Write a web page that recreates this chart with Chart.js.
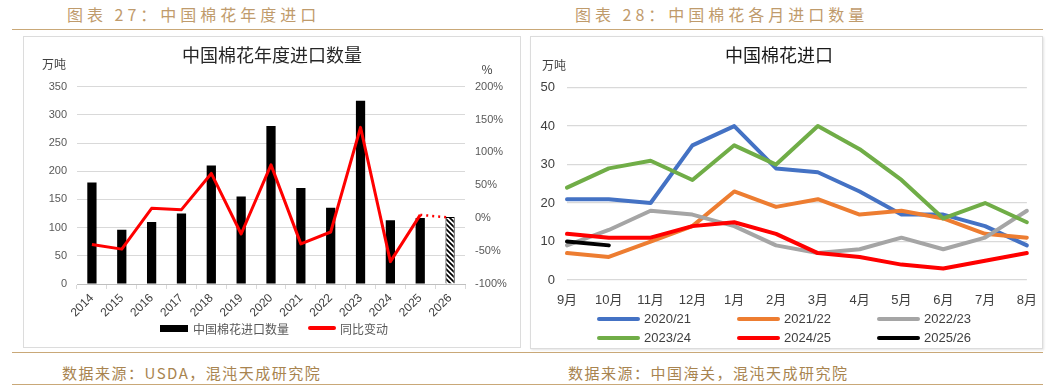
<!DOCTYPE html>
<html>
<head>
<meta charset="utf-8">
<script src="https://cdn.jsdelivr.net/npm/chart.js@4.4.1/dist/chart.umd.min.js"></script>
<style>
    body { margin: 0; width: 1056px; height: 386px; background: #fff; position: relative; overflow: hidden; font-family: "Noto Sans CJK SC", sans-serif; }
    .hd { position: absolute; top: 3px; font-size: 16px; line-height: 22px; color: #bf9b6c; letter-spacing: 4px; white-space: nowrap; }
    .rule { position: absolute; left: 12px; width: 1031px; height: 0; border-top: 1.5px solid #c9a878; }
    .box { position: absolute; border: 1px solid #dcdcdc; background: #fff; }
    .box canvas { position: absolute; left: 0; top: 0; }
    .ft { position: absolute; top: 362px; font-size: 15px; line-height: 22px; color: #a8844f; letter-spacing: 1.5px; white-space: nowrap; }
    .legend { position: absolute; display: grid; }
    .legend .it { display: flex; align-items: center; white-space: nowrap; }
    #yearLegend { left: 160px; top: 319px; grid-template-columns: 148px 100px; }
    #yearLegend .it { height: 18px; font: 12px "Noto Sans CJK SC", sans-serif; color: #595959; }
    #monthLegend { left: 597px; top: 309px; grid-template-columns: 140px 140px 140px; }
    #monthLegend .it { height: 19px; font: 13px "Liberation Sans", sans-serif; color: #404040; }
</style>
</head>
<body>
<div class="hd" style="left:67px">图表 27：中国棉花年度进口</div>
<div class="hd" style="left:575px">图表 28：中国棉花各月进口数量</div>
<div class="rule" style="top:29px"></div>

<div class="box" style="left:23px;top:36px;width:496px;height:310px">
    <canvas id="yearChart" width="496" height="310"></canvas>
</div>
<div class="box" style="left:530px;top:36px;width:511px;height:311px;box-shadow:1px 1px 2px #e4e4e4">
    <canvas id="monthChart" width="511" height="311"></canvas>
</div>
<div id="yearLegend" class="legend"></div>
<div id="monthLegend" class="legend"></div>

<div class="rule" style="top:352px"></div>
<div class="ft" style="left:62px">数据来源：USDA，混沌天成研究院</div>
<div class="ft" style="left:568px">数据来源：中国海关，混沌天成研究院</div>
<div class="rule" style="top:384px"></div>

<script>
// 年度进口 (万吨) et variation annuelle (%)
const years = ['2014', '2015', '2016', '2017', '2018', '2019', '2020', '2021', '2022', '2023', '2024', '2025', '2026'];
const importVolume = [180, 96, 110, 125, 210, 155, 280, 170, 135, 325, 113, 117, 119];
const yoyChange = [-40, -47, 15, 13, 68, -24, 81, -39, -21, 138, -66, 5, 1];

// 各月进口 (万吨)
const months = ['9月', '10月', '11月', '12月', '1月', '2月', '3月', '4月', '5月', '6月', '7月', '8月'];
const seasonLabels = ['2020/21', '2021/22', '2022/23', '2023/24', '2024/25', '2025/26'];
const season2020 = [21, 21, 20, 35, 40, 29, 28, 23, 17, 17, 14, 9];
const season2021 = [7, 6, 10, 14, 23, 19, 21, 17, 18, 16, 12, 11];
const season2022 = [9, 13, 18, 17, 14, 9, 7, 8, 11, 8, 11, 18];
const season2023 = [24, 29, 31, 26, 35, 30, 40, 34, 26, 16, 20, 15];
const season2024 = [12, 11, 11, 14, 15, 12, 7, 6, 4, 3, 5, 7];
const season2025 = [10, 9];
const seasonColors = ['#4472c4', '#ed7d31', '#a5a5a5', '#70ad47', '#ff0000', '#000000'];

const gridColor = '#d9d9d9';

// petit texte d'unité au-dessus des axes
const unitLabels = {
    id: 'unitLabels',
    afterDraw(chart, args, opts) {
        const ctx = chart.ctx;
        const area = chart.chartArea;
        ctx.save();
        ctx.font = '12px "Noto Sans CJK SC"';
        ctx.fillStyle = '#404040';
        ctx.textAlign = 'center';
        ctx.textBaseline = 'middle';
        if (opts.left) ctx.fillText(opts.left, area.left + opts.leftDx, area.top - 22);
        if (opts.right) ctx.fillText(opts.right, area.right + opts.rightDx, area.top - 17);
        ctx.restore();
    }
};

// légende HTML construite à partir des datasets
const htmlLegend = {
    id: 'htmlLegend',
    afterUpdate(chart, args, opts) {
        const box = document.getElementById(opts.containerId);
        box.innerHTML = '';
        chart.data.datasets.forEach((ds, i) => {
            const item = document.createElement('div');
            item.className = 'it';
            const mark = document.createElement('span');
            const st = opts.marks[i] || opts.marks[0];
            mark.style.display = 'inline-block';
            mark.style.width = st.w + 'px';
            mark.style.height = st.h + 'px';
            mark.style.borderRadius = st.r + 'px';
            mark.style.marginRight = st.gap + 'px';
            mark.style.background = i === 0 && opts.firstColor ? opts.firstColor : ds.borderColor;
            const txt = document.createElement('span');
            txt.textContent = ds.label;
            item.appendChild(mark);
            item.appendChild(txt);
            box.appendChild(item);
        });
    }
};

function makeHatch() {
    const c = document.createElement('canvas');
    c.width = 5; c.height = 5;
    const g = c.getContext('2d');
    g.fillStyle = '#fff';
    g.fillRect(0, 0, 5, 5);
    g.strokeStyle = '#000';
    g.lineWidth = 1.7;
    g.beginPath();
    g.moveTo(-1, -1); g.lineTo(6, 6);
    g.moveTo(-1, 4); g.lineTo(1, 6);
    g.moveTo(4, -1); g.lineTo(6, 1);
    g.stroke();
    return document.getElementById('yearChart').getContext('2d').createPattern(c, 'repeat');
}

const hatch = makeHatch();
const lastIdx = years.length - 1;

new Chart(document.getElementById('yearChart'), {
    data: {
        labels: years,
        datasets: [{
            type: 'bar',
            label: '中国棉花进口数量',
            data: importVolume,
            backgroundColor: years.map((y, i) => i === lastIdx ? hatch : '#000'),
            borderColor: '#000',
            borderWidth: years.map((y, i) => i === lastIdx ? 1 : 0),
            barPercentage: 0.31,
            categoryPercentage: 1,
            yAxisID: 'y',
            order: 1
        }, {
            type: 'line',
            label: '同比变动',
            data: yoyChange,
            borderColor: '#ff0000',
            backgroundColor: '#ff0000',
            borderWidth: 3,
            pointRadius: 0,
            tension: 0,
            borderJoinStyle: 'round',
            segment: {
                borderDash: ctx => ctx.p1DataIndex === lastIdx ? [2, 4] : undefined,
                borderWidth: ctx => ctx.p1DataIndex === lastIdx ? 2.5 : 3
            },
            yAxisID: 'y1',
            order: 0
        }]
    },
    options: {
        responsive: false,
        animation: false,
        layout: { padding: { left: 0, right: 0, top: 0, bottom: 22 } },
        scales: {
            x: {
                grid: { display: true, drawOnChartArea: false, drawTicks: true, tickLength: 5, color: gridColor },
                border: { display: true, color: '#bfbfbf' },
                ticks: { minRotation: 45, maxRotation: 45, padding: 2, color: '#404040', font: { family: 'Liberation Sans', size: 12 } },
                afterFit: scale => { scale.height = 41; }
            },
            y: {
                position: 'left',
                min: 0, max: 350,
                ticks: { stepSize: 50, padding: 10, color: '#595959', font: { family: 'Liberation Sans', size: 11 } },
                grid: { color: gridColor, drawTicks: false },
                border: { display: false },
                afterFit: scale => { scale.width = 53; }
            },
            y1: {
                position: 'right',
                min: -100, max: 200,
                ticks: { stepSize: 50, padding: 10, color: '#595959', font: { family: 'Liberation Sans', size: 11 }, callback: v => v + '%' },
                grid: { drawOnChartArea: false, drawTicks: false },
                border: { display: false },
                afterFit: scale => { scale.width = 55; }
            }
        },
        plugins: {
            title: {
                display: true,
                text: '中国棉花年度进口数量',
                color: '#262626',
                font: { family: 'Noto Sans CJK SC', size: 18, weight: 'normal' },
                padding: { top: 7, bottom: 21 }
            },
            legend: { display: false },
            tooltip: { enabled: false },
            unitLabels: { left: '万吨', leftDx: -23, right: '%', rightDx: 22 },
            htmlLegend: {
                containerId: 'yearLegend',
                firstColor: '#000',
                marks: [{ w: 28, h: 7, r: 0, gap: 5 }, { w: 28, h: 4, r: 2, gap: 4 }]
            }
        }
    },
    plugins: [unitLabels, htmlLegend]
});

const seasonData = [season2020, season2021, season2022, season2023, season2024, season2025];

new Chart(document.getElementById('monthChart'), {
    type: 'line',
    data: {
        labels: months,
        datasets: seasonData.map((d, i) => ({
            label: seasonLabels[i],
            data: d,
            borderColor: seasonColors[i],
            backgroundColor: seasonColors[i],
            borderWidth: 4,
            pointRadius: 0,
            tension: 0,
            borderCapStyle: 'round',
            borderJoinStyle: 'round',
            order: -i
        }))
    },
    options: {
        responsive: false,
        animation: false,
        layout: { padding: { left: 0, right: 15, top: 0, bottom: 38 } },
        scales: {
            x: {
                grid: { display: false },
                border: { display: false },
                ticks: { padding: 5, color: '#404040', font: { family: '"Liberation Sans", "Noto Sans CJK SC"', size: 13 } },
                afterFit: scale => { scale.height = 30; }
            },
            y: {
                min: 0, max: 50,
                ticks: { stepSize: 10, padding: 12, color: '#404040', font: { family: 'Liberation Sans', size: 13 } },
                grid: { color: gridColor, lineWidth: 1.3, drawTicks: false },
                border: { display: false },
                afterFit: scale => { scale.width = 36; }
            }
        },
        plugins: {
            title: {
                display: true,
                text: '中国棉花进口',
                color: '#1a1a1a',
                font: { family: 'Noto Sans CJK SC', size: 18, weight: 'normal' },
                padding: { top: 7, bottom: 22 }
            },
            legend: { display: false },
            tooltip: { enabled: false },
            unitLabels: { left: '万吨', leftDx: -13 },
            htmlLegend: {
                containerId: 'monthLegend',
                marks: [{ w: 43, h: 4, r: 2, gap: 4 }]
            }
        }
    },
    plugins: [unitLabels, htmlLegend]
});
</script>
</body>
</html>
